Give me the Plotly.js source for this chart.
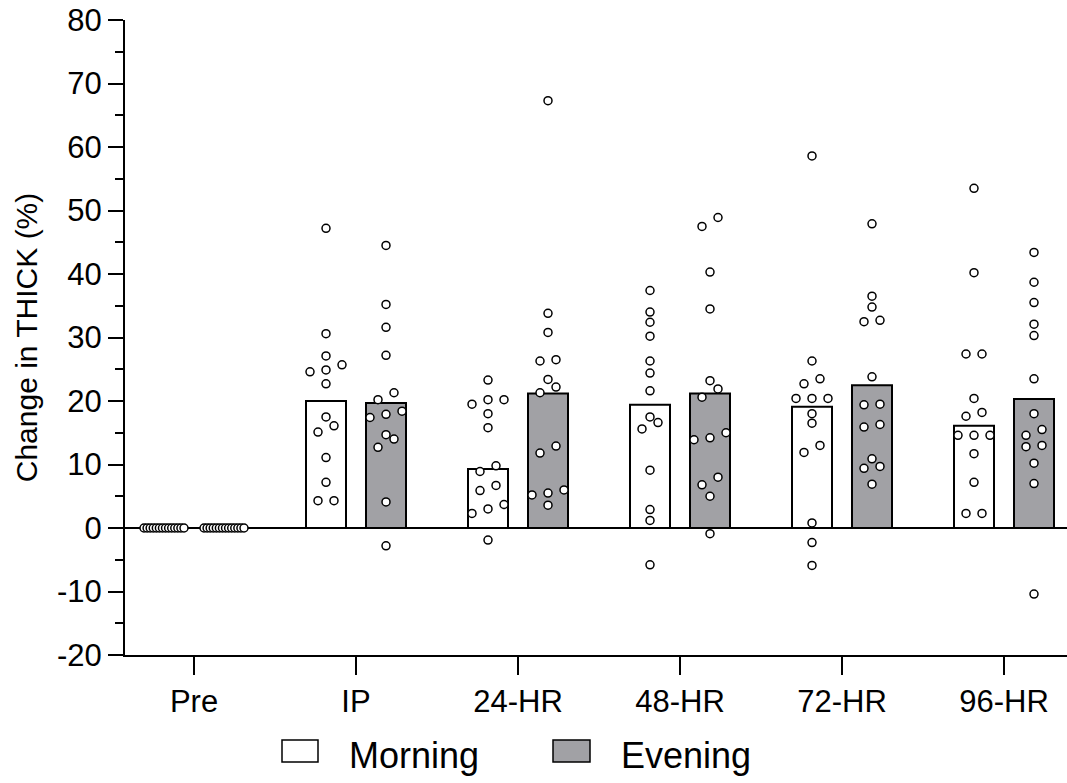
<!DOCTYPE html>
<html>
<head>
<meta charset="utf-8">
<script src="https://cdn.plot.ly/plotly-3.0.1.min.js"></script>
<style>html,body{margin:0;padding:0;background:#fff;}#chart{width:1067px;height:783px;}</style>
</head>
<body>
<div id="chart"></div>
<script>
// ---------- data ----------
const categories = ["Pre", "IP", "24-HR", "48-HR", "72-HR", "96-HR"];
const seriesNames = ["Morning", "Evening"];
const yTickVals = [-20, -10, 0, 10, 20, 30, 40, 50, 60, 70, 80];
const yTickText = ["-20", "-10", "0", "10", "20", "30", "40", "50", "60", "70", "80"];

const morningBars = [0, 20.0, 9.3, 19.4, 19.1, 16.1];
const eveningBars = [0, 19.7, 21.2, 21.2, 22.5, 20.3];

const morningPre  = [0,0,0,0,0,0,0,0,0,0,0,0,0,0];
const morningIP   = [47.2, 30.6, 27.1, 25.7, 24.6, 24.9, 22.7, 17.5, 16.1, 15.1, 11.1, 7.2, 4.3, 4.3];
const morning24   = [23.3, 20.2, 20.2, 19.5, 18.0, 15.8, 9.8, 8.9, 6.7, 5.9, 3.7, 3.0, 2.3, -1.9];
const morning48   = [37.4, 34.0, 32.4, 30.2, 26.3, 24.4, 21.6, 17.5, 16.6, 15.6, 9.1, 2.9, 1.2, -5.8];
const morning72   = [58.6, 26.3, 23.5, 22.7, 20.4, 20.4, 20.4, 18.0, 16.5, 13.0, 11.9, 0.8, -2.3, -5.9];
const morning96   = [53.5, 40.2, 27.4, 27.4, 20.4, 18.2, 17.6, 14.6, 14.6, 14.6, 11.7, 7.2, 2.3, 2.3];

const eveningPre  = [0,0,0,0,0,0,0,0,0,0,0,0,0,0];
const eveningIP   = [44.5, 35.2, 31.6, 27.2, 21.3, 20.2, 18.4, 17.9, 17.4, 14.7, 14.0, 12.7, 4.1, -2.8];
const evening24   = [67.3, 33.8, 30.8, 26.3, 26.5, 23.4, 22.2, 21.3, 12.9, 11.8, 6.0, 5.5, 5.2, 3.6];
const evening48   = [48.9, 47.5, 40.3, 34.5, 23.2, 21.9, 20.6, 15.0, 14.2, 13.9, 8.0, 6.8, 5.0, -0.9];
const evening72   = [47.9, 36.5, 34.8, 32.5, 32.7, 23.8, 19.4, 19.5, 15.9, 16.3, 10.9, 9.7, 9.4, 6.9];
const evening96   = [43.4, 38.7, 35.5, 32.1, 30.3, 23.5, 18.0, 15.5, 14.6, 13.0, 12.8, 10.2, 7.0, -10.4];

const morningPoints = [morningPre, morningIP, morning24, morning48, morning72, morning96];
const eveningPoints = [eveningPre, eveningIP, evening24, evening48, evening72, evening96];

const yTitle = "Change in THICK (%)";

// ---------- geometry ----------
const W = 1067, H = 783;
const M = {l: 125, r: 0, t: 20, b: 128};
const plotW = W - M.l - M.r, plotH = H - M.t - M.b;
const firstTickPx = 194, groupPx = 162;          // pixel spacing of groups
const yMin = -20, yMax = 80;
const pxPerX = groupPx, pxPerY = plotH / (yMax - yMin);
const xRange = [(M.l - firstTickPx) / pxPerX, (W - M.r - firstTickPx) / pxPerX];
const barOffsetPx = 30, barWidthPx = 40;

// beeswarm-like horizontal spreading (rows of nearly equal values)
function spread(values) {
  const order = values.map((v, i) => i).sort((a, b) => values[a] - values[b]);
  const off = new Array(values.length).fill(0);
  let i = 0;
  const thr = 9 / pxPerY;
  while (i < order.length) {
    let j = i + 1;
    while (j < order.length && values[order[j]] - values[order[i]] < thr) j++;
    const n = j - i;
    if (n > 1) {
      const s = Math.min(16, 40 / (n - 1));
      for (let k = 0; k < n; k++) off[order[i + k]] = (k - (n - 1) / 2) * s;
    }
    i = j;
  }
  return off;
}

function pointTrace(groups, sideSign) {
  const xs = [], ys = [];
  groups.forEach((vals, g) => {
    const o = spread(vals);
    vals.forEach((v, k) => {
      xs.push(g + (sideSign * barOffsetPx + o[k]) / pxPerX);
      ys.push(v);
    });
  });
  return {
    type: "scatter", mode: "markers", x: xs, y: ys, showlegend: false,
    hoverinfo: "y", cliponaxis: false,
    marker: {size: 8, color: "#ffffff", line: {color: "#000000", width: 1.5}}
  };
}

const idx = categories.map((c, i) => i);
const barW = barWidthPx / pxPerX;

const traces = [
  {type: "bar", name: seriesNames[0], x: idx, y: morningBars, width: barW,
   offset: (-barOffsetPx - barWidthPx / 2) / pxPerX,
   marker: {color: "#ffffff", line: {color: "#000000", width: 2}}, showlegend: false},
  {type: "bar", name: seriesNames[1], x: idx, y: eveningBars, width: barW,
   offset: (barOffsetPx - barWidthPx / 2) / pxPerX,
   marker: {color: "#a1a1a5", line: {color: "#000000", width: 2}}, showlegend: false},
  pointTrace(morningPoints, -1),
  pointTrace(eveningPoints, 1)
];

const font = "Liberation Sans, Arial, Helvetica, sans-serif";
const annotations = [];

function px2paperX(p) { return (p - M.l) / plotW; }
function px2paperY(p) { return (H - M.b - p) / plotH; }

const legendItems = [
  {name: seriesNames[0], box: [282, 318], text: 347, fill: "#ffffff"},
  {name: seriesNames[1], box: [553, 590], text: 619, fill: "#a1a1a5"}
];
const shapes = [];
legendItems.forEach(it => {
  shapes.push({type: "rect", xref: "paper", yref: "paper",
    x0: px2paperX(it.box[0]), x1: px2paperX(it.box[1]),
    y0: px2paperY(740), y1: px2paperY(762),
    fillcolor: it.fill, line: {color: "#000", width: 1.5}});
  annotations.push({text: it.name, xref: "paper", yref: "paper",
    x: px2paperX(it.text), xanchor: "left", y: px2paperY(755), yanchor: "middle",
    showarrow: false, font: {family: font, size: 36, color: "#000"}});
});

const layout = {
  width: W, height: H, margin: M,
  paper_bgcolor: "#fff", plot_bgcolor: "#fff",
  font: {family: font, color: "#000"},
  showlegend: false, bargap: 0,
  xaxis: {range: xRange, tickmode: "array", tickvals: idx, ticktext: categories,
    ticks: "outside", ticklen: 18, tickwidth: 2, tickcolor: "#000",
    tickfont: {family: font, size: 31, color: "#000"},
    showline: true, linewidth: 2, linecolor: "#000", showgrid: false, zeroline: false, fixedrange: true},
  yaxis: {range: [yMin, yMax], tickmode: "array", tickvals: yTickVals, ticktext: yTickText,
    ticks: "outside", ticklen: 15, tickwidth: 2, tickcolor: "#000",
    minor: {tickmode: "linear", tick0: 5, dtick: 10, ticks: "outside", ticklen: 8, tickwidth: 2, tickcolor: "#000", showgrid: false},
    showline: true, linewidth: 2, linecolor: "#000", showgrid: false,
    zeroline: true, zerolinecolor: "#000", zerolinewidth: 2.5,
    tickfont: {family: font, size: 31, color: "#000"},
    title: {text: yTitle, font: {family: font, size: 30, color: "#000"}, standoff: 10}, fixedrange: true},
  annotations: annotations, shapes: shapes
};

Plotly.newPlot("chart", traces, layout, {displayModeBar: false, staticPlot: true});
</script>
</body>
</html>
